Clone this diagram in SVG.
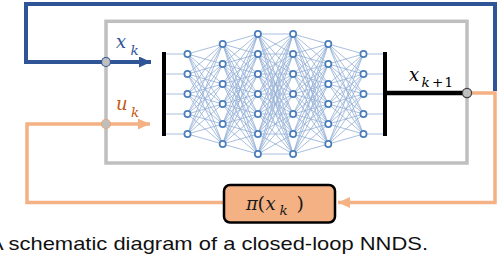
<svg xmlns="http://www.w3.org/2000/svg" width="500" height="256" viewBox="0 0 500 256">
<style>
.m{font-family:"DejaVu Serif","Liberation Serif",serif;font-style:italic}
.u{font-family:"DejaVu Serif","Liberation Serif",serif}
.edge{fill:none;stroke:#93AFD5;stroke-width:0.8}
.neuron{fill:#fff;stroke:#4A7EBB;stroke-width:1.7}
.bar{stroke:#000;stroke-width:4}
.dot{fill:#BFBFBF;stroke-width:1.2}
</style>
<defs>
<marker id="ab" markerUnits="userSpaceOnUse" markerWidth="13" markerHeight="12" refX="12" refY="5.5" orient="auto"><path d="M0,0L12,5.5L0,11z" fill="#2F5597"/></marker>
<marker id="ao" markerUnits="userSpaceOnUse" markerWidth="13" markerHeight="12" refX="12" refY="5.5" orient="auto"><path d="M0,0L12,5.5L0,11z" fill="#F4B183"/></marker>
</defs>
<rect width="500" height="256" fill="#fff"/>
<g id="nn">
<rect x="106" y="21.3" width="361" height="141.7" fill="none" stroke="#BFBFBF" stroke-width="3.5"/>
<path class="edge" d="M166 54H184.4M166 74H184.4M166 94H184.4M166 114H184.4M166 134H184.4M366.6 54H383M366.6 74H383M366.6 94H383M366.6 114H383M366.6 134H383"/>
<path class="edge" d="M187.5 54 222.7 44M187.5 54 222.7 64M187.5 54 222.7 84M187.5 54 222.7 104M187.5 54 222.7 124M187.5 54 222.7 144M187.5 74 222.7 44M187.5 74 222.7 64M187.5 74 222.7 84M187.5 74 222.7 104M187.5 74 222.7 124M187.5 74 222.7 144M187.5 94 222.7 44M187.5 94 222.7 64M187.5 94 222.7 84M187.5 94 222.7 104M187.5 94 222.7 124M187.5 94 222.7 144M187.5 114 222.7 44M187.5 114 222.7 64M187.5 114 222.7 84M187.5 114 222.7 104M187.5 114 222.7 124M187.5 114 222.7 144M187.5 134 222.7 44M187.5 134 222.7 64M187.5 134 222.7 84M187.5 134 222.7 104M187.5 134 222.7 124M187.5 134 222.7 144"/>
<path class="edge" d="M222.7 44 257.9 34M222.7 44 257.9 54M222.7 44 257.9 74M222.7 44 257.9 94M222.7 44 257.9 114M222.7 44 257.9 134M222.7 44 257.9 154M222.7 64 257.9 34M222.7 64 257.9 54M222.7 64 257.9 74M222.7 64 257.9 94M222.7 64 257.9 114M222.7 64 257.9 134M222.7 64 257.9 154M222.7 84 257.9 34M222.7 84 257.9 54M222.7 84 257.9 74M222.7 84 257.9 94M222.7 84 257.9 114M222.7 84 257.9 134M222.7 84 257.9 154M222.7 104 257.9 34M222.7 104 257.9 54M222.7 104 257.9 74M222.7 104 257.9 94M222.7 104 257.9 114M222.7 104 257.9 134M222.7 104 257.9 154M222.7 124 257.9 34M222.7 124 257.9 54M222.7 124 257.9 74M222.7 124 257.9 94M222.7 124 257.9 114M222.7 124 257.9 134M222.7 124 257.9 154M222.7 144 257.9 34M222.7 144 257.9 54M222.7 144 257.9 74M222.7 144 257.9 94M222.7 144 257.9 114M222.7 144 257.9 134M222.7 144 257.9 154"/>
<path class="edge" d="M257.9 34 293.1 34M257.9 34 293.1 54M257.9 34 293.1 74M257.9 34 293.1 94M257.9 34 293.1 114M257.9 34 293.1 134M257.9 34 293.1 154M257.9 54 293.1 34M257.9 54 293.1 54M257.9 54 293.1 74M257.9 54 293.1 94M257.9 54 293.1 114M257.9 54 293.1 134M257.9 54 293.1 154M257.9 74 293.1 34M257.9 74 293.1 54M257.9 74 293.1 74M257.9 74 293.1 94M257.9 74 293.1 114M257.9 74 293.1 134M257.9 74 293.1 154M257.9 94 293.1 34M257.9 94 293.1 54M257.9 94 293.1 74M257.9 94 293.1 94M257.9 94 293.1 114M257.9 94 293.1 134M257.9 94 293.1 154M257.9 114 293.1 34M257.9 114 293.1 54M257.9 114 293.1 74M257.9 114 293.1 94M257.9 114 293.1 114M257.9 114 293.1 134M257.9 114 293.1 154M257.9 134 293.1 34M257.9 134 293.1 54M257.9 134 293.1 74M257.9 134 293.1 94M257.9 134 293.1 114M257.9 134 293.1 134M257.9 134 293.1 154M257.9 154 293.1 34M257.9 154 293.1 54M257.9 154 293.1 74M257.9 154 293.1 94M257.9 154 293.1 114M257.9 154 293.1 134M257.9 154 293.1 154"/>
<path class="edge" d="M328.3 44 293.1 34M328.3 44 293.1 54M328.3 44 293.1 74M328.3 44 293.1 94M328.3 44 293.1 114M328.3 44 293.1 134M328.3 44 293.1 154M328.3 64 293.1 34M328.3 64 293.1 54M328.3 64 293.1 74M328.3 64 293.1 94M328.3 64 293.1 114M328.3 64 293.1 134M328.3 64 293.1 154M328.3 84 293.1 34M328.3 84 293.1 54M328.3 84 293.1 74M328.3 84 293.1 94M328.3 84 293.1 114M328.3 84 293.1 134M328.3 84 293.1 154M328.3 104 293.1 34M328.3 104 293.1 54M328.3 104 293.1 74M328.3 104 293.1 94M328.3 104 293.1 114M328.3 104 293.1 134M328.3 104 293.1 154M328.3 124 293.1 34M328.3 124 293.1 54M328.3 124 293.1 74M328.3 124 293.1 94M328.3 124 293.1 114M328.3 124 293.1 134M328.3 124 293.1 154M328.3 144 293.1 34M328.3 144 293.1 54M328.3 144 293.1 74M328.3 144 293.1 94M328.3 144 293.1 114M328.3 144 293.1 134M328.3 144 293.1 154"/>
<path class="edge" d="M363.5 54 328.3 44M363.5 54 328.3 64M363.5 54 328.3 84M363.5 54 328.3 104M363.5 54 328.3 124M363.5 54 328.3 144M363.5 74 328.3 44M363.5 74 328.3 64M363.5 74 328.3 84M363.5 74 328.3 104M363.5 74 328.3 124M363.5 74 328.3 144M363.5 94 328.3 44M363.5 94 328.3 64M363.5 94 328.3 84M363.5 94 328.3 104M363.5 94 328.3 124M363.5 94 328.3 144M363.5 114 328.3 44M363.5 114 328.3 64M363.5 114 328.3 84M363.5 114 328.3 104M363.5 114 328.3 124M363.5 114 328.3 144M363.5 134 328.3 44M363.5 134 328.3 64M363.5 134 328.3 84M363.5 134 328.3 104M363.5 134 328.3 124M363.5 134 328.3 144"/>
<g id="layer1"><circle class="neuron" cx="187.5" cy="54" r="3.1"/><circle class="neuron" cx="187.5" cy="74" r="3.1"/><circle class="neuron" cx="187.5" cy="94" r="3.1"/><circle class="neuron" cx="187.5" cy="114" r="3.1"/><circle class="neuron" cx="187.5" cy="134" r="3.1"/></g>
<g id="layer2"><circle class="neuron" cx="222.7" cy="44" r="3.1"/><circle class="neuron" cx="222.7" cy="64" r="3.1"/><circle class="neuron" cx="222.7" cy="84" r="3.1"/><circle class="neuron" cx="222.7" cy="104" r="3.1"/><circle class="neuron" cx="222.7" cy="124" r="3.1"/><circle class="neuron" cx="222.7" cy="144" r="3.1"/></g>
<g id="layer3"><circle class="neuron" cx="257.9" cy="34" r="3.1"/><circle class="neuron" cx="257.9" cy="54" r="3.1"/><circle class="neuron" cx="257.9" cy="74" r="3.1"/><circle class="neuron" cx="257.9" cy="94" r="3.1"/><circle class="neuron" cx="257.9" cy="114" r="3.1"/><circle class="neuron" cx="257.9" cy="134" r="3.1"/><circle class="neuron" cx="257.9" cy="154" r="3.1"/></g>
<g id="layer4"><circle class="neuron" cx="293.1" cy="34" r="3.1"/><circle class="neuron" cx="293.1" cy="54" r="3.1"/><circle class="neuron" cx="293.1" cy="74" r="3.1"/><circle class="neuron" cx="293.1" cy="94" r="3.1"/><circle class="neuron" cx="293.1" cy="114" r="3.1"/><circle class="neuron" cx="293.1" cy="134" r="3.1"/><circle class="neuron" cx="293.1" cy="154" r="3.1"/></g>
<g id="layer5"><circle class="neuron" cx="328.3" cy="44" r="3.1"/><circle class="neuron" cx="328.3" cy="64" r="3.1"/><circle class="neuron" cx="328.3" cy="84" r="3.1"/><circle class="neuron" cx="328.3" cy="104" r="3.1"/><circle class="neuron" cx="328.3" cy="124" r="3.1"/><circle class="neuron" cx="328.3" cy="144" r="3.1"/></g>
<g id="layer6"><circle class="neuron" cx="363.5" cy="54" r="3.1"/><circle class="neuron" cx="363.5" cy="74" r="3.1"/><circle class="neuron" cx="363.5" cy="94" r="3.1"/><circle class="neuron" cx="363.5" cy="114" r="3.1"/><circle class="neuron" cx="363.5" cy="134" r="3.1"/></g>
<line class="bar" x1="164" y1="52" x2="164" y2="136"/>
<line class="bar" x1="385" y1="52" x2="385" y2="136"/>
</g>
<g id="connectors">
<path d="M385 93H467" stroke="#000" stroke-width="4.5" fill="none"/>
<path d="M495 91V4H26V62H151" stroke="#2F5597" stroke-width="4" fill="none" marker-end="url(#ab)"/>
<path d="M467 93H495V202.5H338" stroke="#F4B183" stroke-width="3.5" fill="none" marker-end="url(#ao)"/>
<path d="M223 202.5H27V124H150" stroke="#F4B183" stroke-width="3.5" fill="none" marker-end="url(#ao)"/>
<circle class="dot" cx="106" cy="62" r="4.5" stroke="#2F5597"/>
<circle class="dot" cx="106" cy="124" r="4.5" stroke="#E9A77A"/>
<circle class="dot" cx="467" cy="93" r="4.6" stroke="#404040"/>
</g>
<g id="label-xk" fill="#2F5597"><text class="m" x="116" y="48" font-size="18">x</text><text class="m" x="130.5" y="55" font-size="13.5">k</text></g>
<g id="label-uk" fill="#C55A11"><text class="m" x="116" y="110" font-size="18">u</text><text class="m" x="131" y="116.5" font-size="13.5">k</text></g>
<g id="label-xk1" fill="#000"><text class="m" x="409" y="81" font-size="18">x</text><text class="m" x="421.5" y="87" font-size="13.5">k</text><text class="u" x="432" y="87" font-size="13.5">+</text><text class="u" x="444.5" y="87" font-size="13.5">1</text></g>
<g id="policy">
<rect x="224" y="185" width="111" height="37.5" rx="6" fill="#F4B183" stroke="#000" stroke-width="2.5"/>
<text class="m" x="246" y="210" font-size="18" fill="#1a1a1a">π</text>
<text class="u" x="257.5" y="210" font-size="19" fill="#1a1a1a">(</text>
<text class="m" x="265.5" y="210" font-size="18" fill="#1a1a1a">x</text>
<text class="m" x="279.5" y="215" font-size="13.5" fill="#1a1a1a">k</text>
<text class="u" x="296.5" y="210" font-size="19" fill="#1a1a1a">)</text>
</g>
<text x="-11" y="250" font-family="Liberation Sans, Arial, sans-serif" font-size="19" fill="#111" textLength="439" lengthAdjust="spacingAndGlyphs">A schematic diagram of a closed-loop NNDS.</text>
</svg>
